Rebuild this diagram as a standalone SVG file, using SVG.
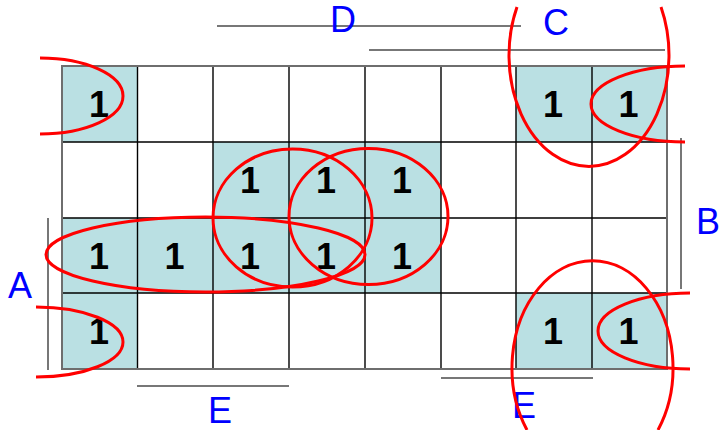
<svg xmlns="http://www.w3.org/2000/svg" width="720" height="430" viewBox="0 0 720 430">
<style>
.cell{fill:#BAE0E3}
.grid{stroke:#000;stroke-width:1.4;fill:none}
.border{stroke:#6e6e6e;stroke-width:2;fill:none}
.bar{stroke:#777;stroke-width:2;fill:none}
.one{font-family:"Liberation Sans",Arial,sans-serif;font-weight:bold;font-size:36px;fill:#000;text-anchor:middle}
.lbl{font-family:"Liberation Sans",Arial,sans-serif;font-size:36px;fill:#0000FF}
.loop{stroke:#FF0000;stroke-width:3;fill:none}
</style>
<rect width="720" height="430" fill="#fff"/>
<g id="cells">
<rect class="cell" x="62" y="66" width="75.5" height="76"/>
<rect class="cell" x="516" y="66" width="151" height="76"/>
<rect class="cell" x="213" y="142" width="228" height="76"/>
<rect class="cell" x="62" y="218" width="379" height="75"/>
<rect class="cell" x="62" y="293" width="75.5" height="76"/>
<rect class="cell" x="516" y="293" width="151" height="76"/>
</g>
<g id="grid">
<path class="grid" d="M137.5,66V369M213,66V369M289,66V369M365,66V369M441,66V369M516,66V369M592,66V369M62,142H667M62,218H667M62,293H667"/>
<rect class="border" x="62" y="66" width="605" height="303"/>
</g>
<g id="ones">
<text class="one" x="99" y="117">1</text>
<text class="one" x="553" y="117">1</text>
<text class="one" x="628.5" y="117">1</text>
<text class="one" x="250" y="193">1</text>
<text class="one" x="326" y="193">1</text>
<text class="one" x="402" y="193">1</text>
<text class="one" x="99" y="268.5">1</text>
<text class="one" x="174.5" y="268.5">1</text>
<text class="one" x="250" y="268.5">1</text>
<text class="one" x="326" y="268.5">1</text>
<text class="one" x="402" y="268.5">1</text>
<text class="one" x="99" y="344">1</text>
<text class="one" x="553" y="344">1</text>
<text class="one" x="628.5" y="344">1</text>
</g>
<g id="labels">
<path class="bar" d="M217,26H521M369,50H665M681,138V289M48,218V370M137,386H289M441,378H593"/>
<text class="lbl" x="330" y="32">D</text>
<text class="lbl" x="543" y="35">C</text>
<text class="lbl" x="696" y="234">B</text>
<text class="lbl" x="8" y="298">A</text>
<text class="lbl" x="208" y="423">E</text>
<text class="lbl" x="512" y="418">E</text>
</g>
<g id="connectors">
<path class="loop" d="M40,58A83 38 0 0 1 40,134"/>
<path class="loop" d="M36,307A87 35 0 0 1 36,377"/>
<path class="loop" d="M685,66A94 38 0 0 0 685,142"/>
<path class="loop" d="M517,7A80 111 0 1 0 661,7"/>
<ellipse class="loop" cx="205.5" cy="254.5" rx="159.5" ry="37.5"/>
<ellipse class="loop" cx="292.5" cy="218" rx="79.5" ry="69"/>
<ellipse class="loop" cx="368.5" cy="216.5" rx="79.5" ry="68"/>
<path class="loop" d="M527,430A80.5 107 0 1 1 658,430"/>
<path class="loop" d="M690,293A92 38 0 0 0 690,369"/>
</g>
</svg>
